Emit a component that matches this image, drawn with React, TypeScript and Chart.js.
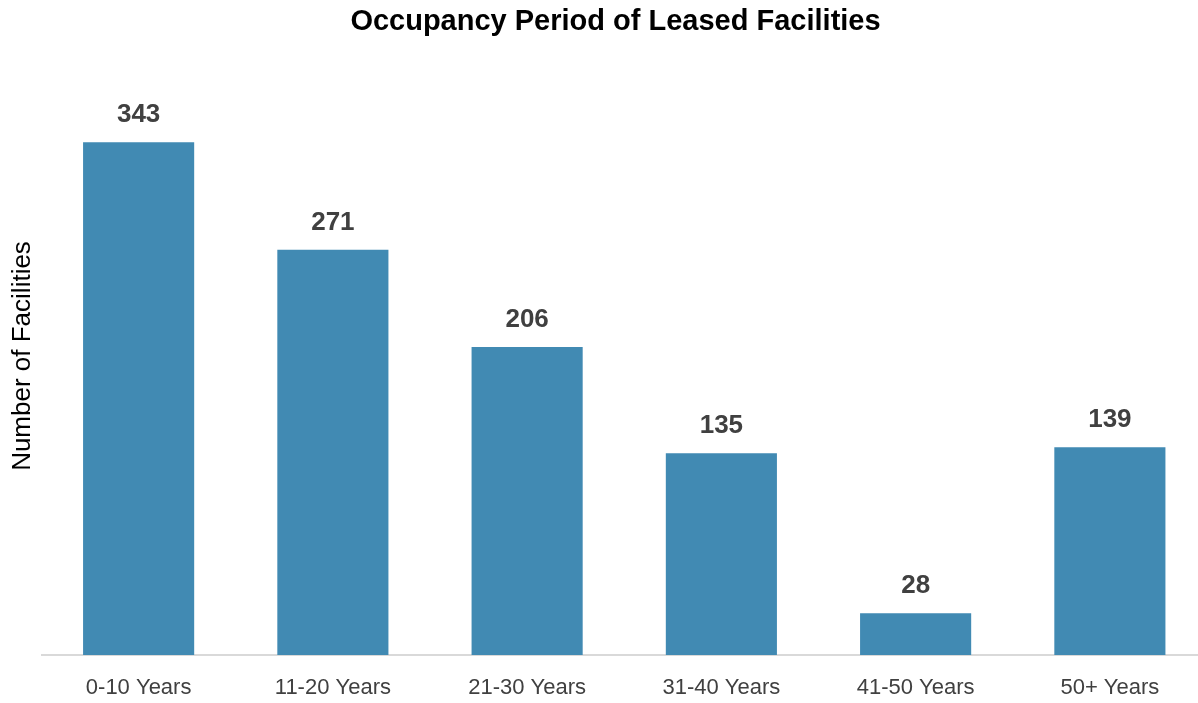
import React, { useEffect, useRef } from "react";
import { Chart, registerables } from "chart.js";

Chart.register(...registerables);

const TITLE = "Occupancy Period of Leased Facilities";
const Y_TITLE = "Number of Facilities";
const CATEGORIES = ["0-10 Years", "11-20 Years", "21-30 Years", "31-40 Years", "41-50 Years", "50+ Years"];
const FACILITIES = [343, 271, 206, 135, 28, 139];
const Y_MIN = 0;
const Y_MAX = 400;

const FONT = "'Liberation Sans', Arial, Helvetica, sans-serif";

const labelsPlugin = {
  id: "valueLabels",
  afterDatasetsDraw(chart: any) {
    const ctx = chart.ctx;
    const meta = chart.getDatasetMeta(0);
    ctx.save();
    ctx.font = `bold 26px ${FONT}`;
    ctx.fillStyle = "#404040";
    ctx.textAlign = "center";
    ctx.textBaseline = "middle";
    meta.data.forEach((el: any, i: number) => {
      ctx.fillText(String(FACILITIES[i]), el.x, el.y - 27);
    });
    ctx.restore();
  },
};

const titlePlugin = {
  id: "customTitle",
  afterDraw(chart: any) {
    const ctx = chart.ctx;
    ctx.save();
    ctx.font = `bold 29px ${FONT}`;
    ctx.fillStyle = "#000000";
    ctx.textAlign = "center";
    ctx.textBaseline = "middle";
    ctx.fillText(TITLE, 615.5, 22);
    ctx.restore();
  },
};

export default function App() {
  const canvasRef = useRef<HTMLCanvasElement | null>(null);

  useEffect(() => {
    const canvas = canvasRef.current;
    if (!canvas) return;
    const chart = new Chart(canvas, {
      type: "bar",
      data: {
        labels: CATEGORIES,
        datasets: [
          {
            data: FACILITIES,
            backgroundColor: "#418AB3",
            borderWidth: 0,
            categoryPercentage: 1,
            barPercentage: 0.572,
          },
        ],
      },
      options: {
        responsive: false,
        animation: false,
        devicePixelRatio: 1,
        layout: { padding: { top: 57, left: 0, right: 0, bottom: 0 } },
        plugins: {
          legend: { display: false },
          title: { display: false },
          tooltip: { enabled: false },
        },
        scales: {
          x: {
            grid: { display: false, drawTicks: false },
            border: { display: true, color: "#D9D9D9", width: 2 },
            ticks: {
              color: "#404040",
              font: { family: FONT, size: 22 },
              padding: 20,
              maxRotation: 0,
            },
            afterFit(scale: any) {
              scale.height = 48;
            },
          },
          y: {
            min: Y_MIN,
            max: Y_MAX,
            grid: { display: false, drawTicks: false },
            border: { display: false },
            ticks: { display: false },
            title: {
              display: true,
              text: Y_TITLE,
              color: "#000000",
              font: { family: FONT, size: 26 },
              padding: { top: 7, bottom: 0 },
            },
            afterFit(scale: any) {
              scale.width = 41.5;
            },
          },
        },
      },
      plugins: [labelsPlugin, titlePlugin],
    });
    return () => chart.destroy();
  }, []);

  return (
    <div
      style={{
        position: "fixed",
        left: 0,
        top: 0,
        width: 1198,
        height: 703,
        overflow: "hidden",
        background: "#ffffff",
      }}
    >
      <canvas ref={canvasRef} width={1207} height={703} style={{ display: "block" }} />
    </div>
  );
}
